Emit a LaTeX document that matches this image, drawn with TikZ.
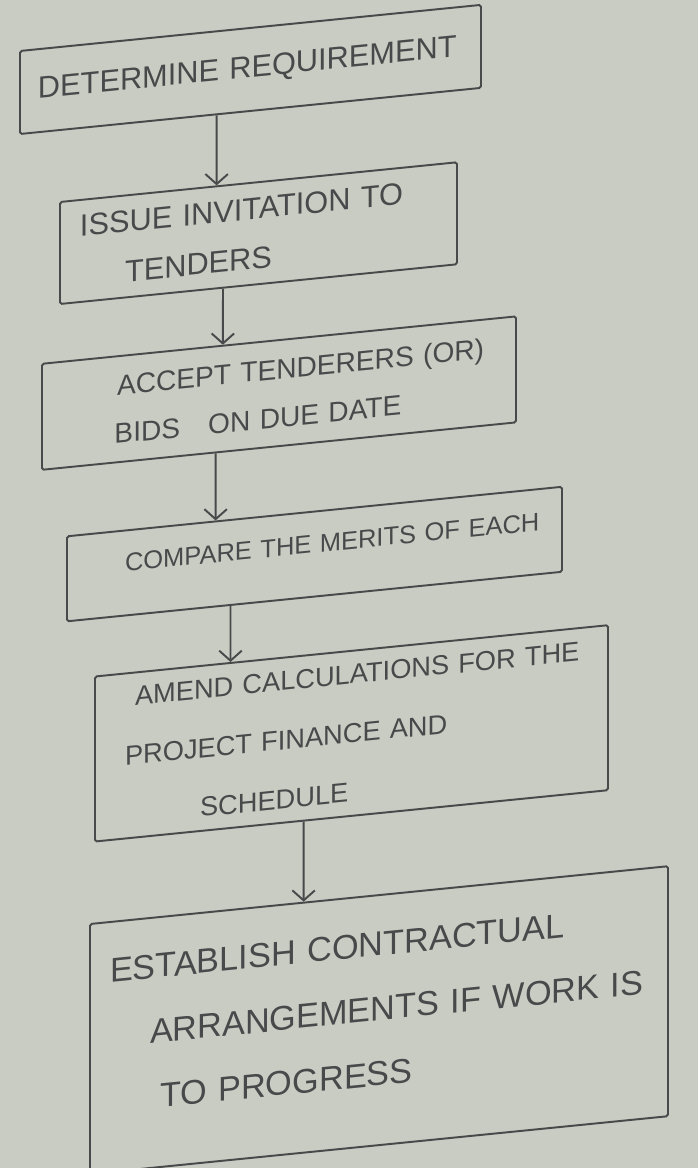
\documentclass[tikz,border=0pt]{standalone}
\usepackage{fontspec}
\setmainfont{Liberation Sans}
\usetikzlibrary{arrows.meta,calc}
\definecolor{paper}{HTML}{C9CCC3}
\definecolor{pencil}{HTML}{48494A}
\tikzset{
	stepbox/.style={draw=pencil,line width=1.1pt,rectangle,rounded corners=1pt,inner sep=0pt,align=left,text=pencil},
	flow/.style={draw=pencil,line width=1.1pt,-{Straight Barb[length=2mm,width=4.5mm]}}
}
\begin{document}
\begin{tikzpicture}
	\fill[paper] (0,0) rectangle (13.96,-23.36);
	\useasboundingbox (0,0) rectangle (13.96,-23.36);
	\begin{scope}[yslant=0.1,every node/.append style={transform shape}]
		\coordinate (determine) at (5.01,-1.89);
		\coordinate (issue) at (5.17,-5.18);
		\coordinate (accept) at (5.58,-8.42);
		\coordinate (compare) at (6.29,-11.71);
		\coordinate (amend) at (7.03,-15.37);
		\coordinate (establish) at (7.58,-21.16);

		\node[stepbox,text width=9.22cm,minimum height=1.66cm,font=\fontsize{17.5}{21}\selectfont] (requirement) at (determine) {\hspace*{0.36cm}DETERMINE REQUIREMENT};
		\node[stepbox,text width=7.94cm,minimum height=2.04cm,font=\fontsize{17.5}{28.5}\selectfont] (invitation) at (issue) {\hspace*{0.4cm}ISSUE INVITATION TO\\\hspace*{1.3cm}TENDERS};
		\node[stepbox,text width=9.48cm,minimum height=2.12cm,font=\fontsize{16}{27.5}\selectfont] (bids) at (accept) {\hspace*{1.5cm}ACCEPT TENDERERS (OR)\\\hspace*{1.45cm}BIDS\quad ON DUE DATE};
		\node[stepbox,text width=9.9cm,minimum height=1.7cm,font=\fontsize{14.5}{18}\selectfont] (merits) at (compare) {\hspace*{1.16cm}COMPARE THE MERITS OF EACH\par\vspace{0.4cm}};
		\node[stepbox,text width=10.26cm,minimum height=3.3cm,font=\fontsize{15.5}{33.6}\selectfont] (calculations) at (amend) {\hspace*{0.8cm}AMEND CALCULATIONS FOR THE\\\hspace*{0.6cm}PROJECT FINANCE AND\\\hspace*{2.1cm}SCHEDULE};
		\node[stepbox,text width=11.56cm,minimum height=5cm,font=\fontsize{19.5}{37}\selectfont] (arrangements) at (establish) {\hspace*{0.4cm}ESTABLISH CONTRACTUAL\\\hspace*{1.2cm}ARRANGEMENTS IF WORK IS\\\hspace*{1.4cm}TO PROGRESS\par\vspace{0.45cm}};

		\draw[flow] ($(requirement.south west)!0.427!(requirement.south east)$) -- ($(invitation.north west)!0.395!(invitation.north east)$);
		\draw[flow] ($(invitation.south west)!0.411!(invitation.south east)$) -- ($(bids.north west)!0.382!(bids.north east)$);
		\draw[flow] ($(bids.south west)!0.367!(bids.south east)$) -- ($(merits.north west)!0.301!(merits.north east)$);
		\draw[flow] ($(merits.south west)!0.331!(merits.south east)$) -- ($(calculations.north west)!0.265!(calculations.north east)$);
		\draw[flow] ($(calculations.south west)!0.407!(calculations.south east)$) -- ($(arrangements.north west)!0.370!(arrangements.north east)$);
	\end{scope}
\end{tikzpicture}
\end{document}
